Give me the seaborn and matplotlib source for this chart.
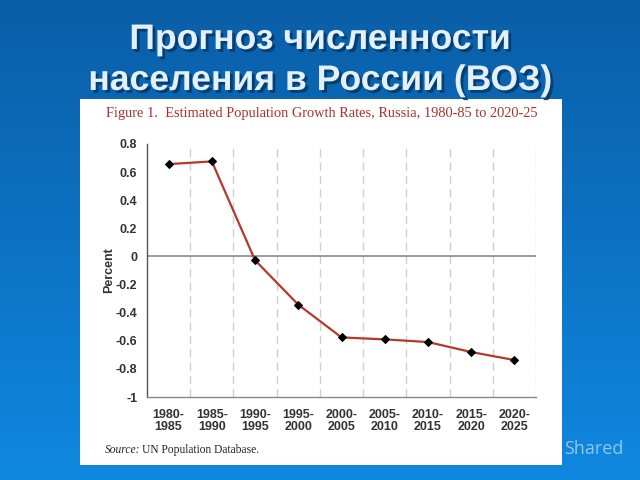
import numpy as np
import pandas as pd
import matplotlib
matplotlib.use("Agg")
import matplotlib.pyplot as plt
import matplotlib.patheffects as pe
import seaborn as sns

title_lines = ["Прогноз численности", "населения в России (ВОЗ)"]
fig_caption = "Figure 1.  Estimated Population Growth Rates, Russia, 1980-85 to 2020-25"
periods = ["1980-\n1985", "1985-\n1990", "1990-\n1995", "1995-\n2000", "2000-\n2005",
           "2005-\n2010", "2010-\n2015", "2015-\n2020", "2020-\n2025"]
growth_rates = [0.657, 0.676, -0.027, -0.343, -0.576, -0.59, -0.609, -0.68, -0.737]
y_ticks = [0.8, 0.6, 0.4, 0.2, 0, -0.2, -0.4, -0.6, -0.8, -1]
y_tick_labels = ["0.8", "0.6", "0.4", "0.2", "0", "-0.2", "-0.4", "-0.6", "-0.8", "-1"]

sns.set_style("white")
plt.rcParams['font.family'] = ['Liberation Sans', 'DejaVu Sans']

fig = plt.figure(figsize=(6.4, 4.8), dpi=100)

# slide background gradient
bg = fig.add_axes([0, 0, 1, 1])
grad = np.linspace(0, 1, 256).reshape(-1, 1)
cmap = matplotlib.colors.LinearSegmentedColormap.from_list("bg", ["#0A5EA6", "#0C72C4", "#1088DF"])
bg.imshow(grad, aspect="auto", cmap=cmap, extent=[0, 1, 0, 1], origin="upper", zorder=0)
bg.add_patch(matplotlib.patches.Rectangle((80/640, 1-465/480), (562-80)/640, (465-99)/480,
                                          facecolor="white", edgecolor="none", zorder=2))
bg.set_xlim(0, 1); bg.set_ylim(0, 1)
bg.axis("off")

shadow = [pe.withSimplePatchShadow(offset=(2, -2), shadow_rgbFace="#063A6A", alpha=0.9)]
for line, base_y in zip(title_lines, [49, 90]):
    fig.text(0.5, 1-base_y/480, line, ha="center", va="baseline", fontsize=25.6, fontweight="bold",
             color="#E2F0FF", path_effects=shadow)

fig.text(594/640, 1-449/480, "Shared", ha="center", va="center", fontsize=13, color="#8CC8F2",
         family=["Open Sans", "DejaVu Sans"])

fig.text(106/640, 1-114/480, fig_caption, ha="left", va="center", fontsize=10.4,
         color="#A8322A", family=["Liberation Serif", "DejaVu Serif"], zorder=5)
fig.text(105/640, 1-450/480, "Source:", ha="left", va="center", fontsize=8.3, style="italic",
         color="#222222", family=["Liberation Serif", "DejaVu Serif"], zorder=5)
fig.text(142/640, 1-450/480, "UN Population Database.", ha="left", va="center", fontsize=8.3,
         color="#222222", family=["Liberation Serif", "DejaVu Serif"], zorder=5)

ax = fig.add_axes([147/640, 1-397/480, (536-147)/640, (397-144)/480])
ax.set_facecolor("white")
df = pd.DataFrame({"period": periods, "rate": growth_rates})
sns.lineplot(data=df, x="period", y="rate", ax=ax, color="#B5382B", linewidth=1.6,
             marker="D", markersize=4.5, markerfacecolor="black", markeredgecolor="black", zorder=5)

n = len(periods)
ax.set_xlim(-0.5, n - 0.5)
ax.set_ylim(-1, 0.8)
for i in range(n):
    ax.axvline(i + 0.5, color="#CFCFCF", linestyle=(0, (6, 3.6)), linewidth=1.0, zorder=1)
ax.axhline(0, color="#8A8A8A", linewidth=1.2, zorder=2)

ax.set_yticks(y_ticks)
ax.set_yticklabels(y_tick_labels, fontsize=9, fontweight="bold", color="#333333")
ax.set_xticks(range(n))
ax.set_xticklabels(periods, fontsize=9, fontweight="bold", color="#333333", linespacing=1.0)
ax.set_xticks([i + 0.5 for i in range(-1, n)], minor=True)
ax.tick_params(axis="x", which="major", length=0, pad=9)
ax.tick_params(axis="x", which="minor", direction="in", length=4, color="#888888", width=0.8)
ax.tick_params(axis="y", which="major", direction="out", length=4, color="#555555", width=0.8, pad=3)
ax.set_xlabel("")
ax.set_ylabel("Percent", fontsize=9, fontweight="bold", color="#333333", labelpad=0)

for side in ["top", "right"]:
    ax.spines[side].set_visible(False)
ax.spines["left"].set_color("#555555")
ax.spines["bottom"].set_color("#888888")
ax.spines["left"].set_linewidth(1.0)
ax.spines["bottom"].set_linewidth(1.0)

fig.savefig("out.png", dpi=100)
